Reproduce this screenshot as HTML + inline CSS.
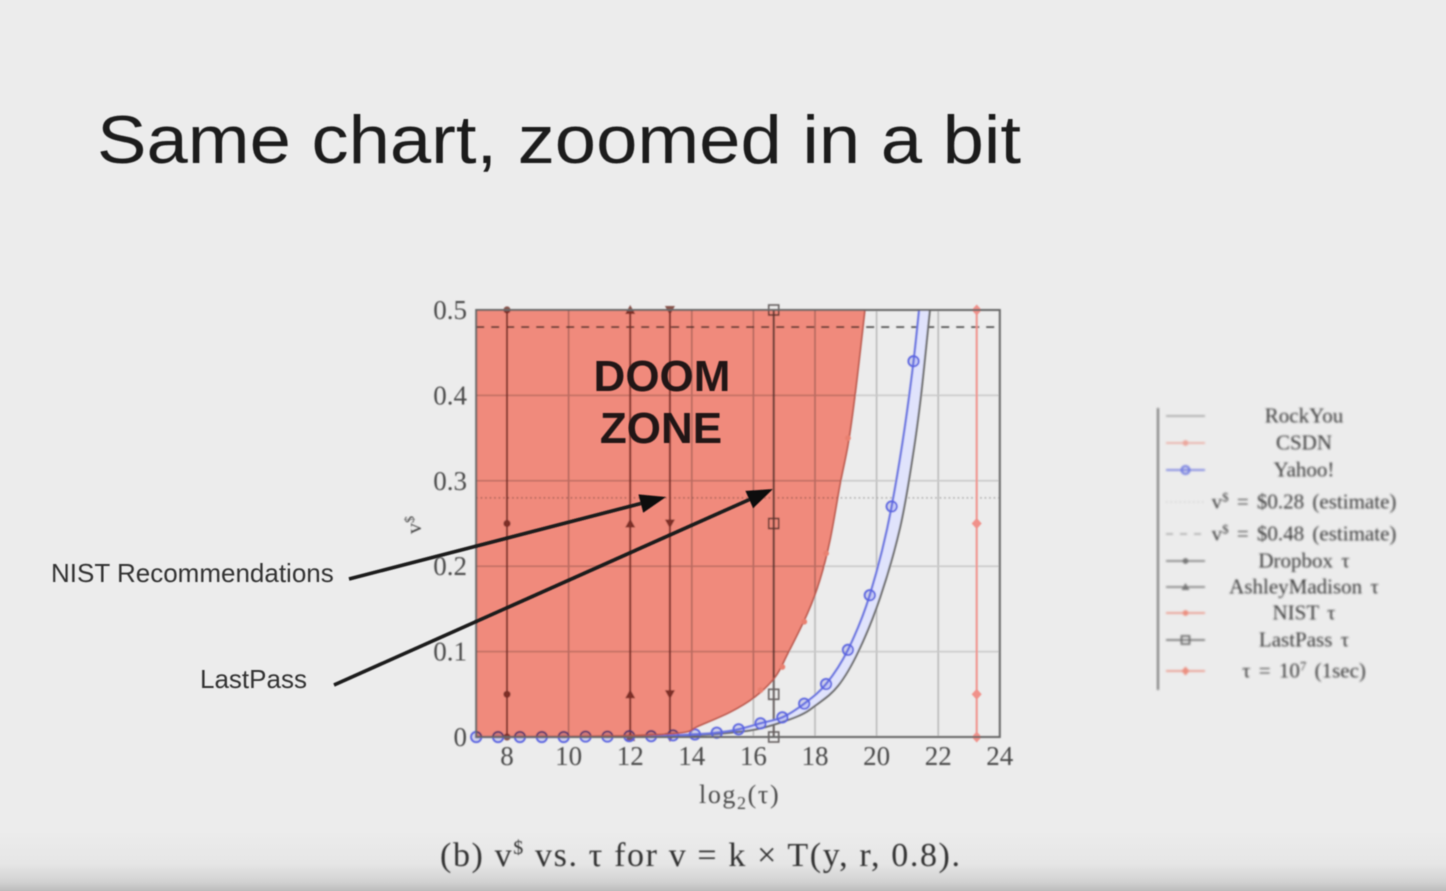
<!DOCTYPE html>
<html lang="en">
<head>
<meta charset="utf-8">
<title>Same chart, zoomed in a bit</title>
<style>
html,body{margin:0;padding:0;background:#ececec;}
body{width:1446px;height:891px;overflow:hidden;}
svg{display:block;}
text{font-family:"Liberation Serif",serif;}
.sans{font-family:"Liberation Sans",sans-serif;}
</style>
</head>
<body>
<svg id="slide" width="1446" height="891" viewBox="0 0 1446 891" xmlns="http://www.w3.org/2000/svg">
<defs>
<linearGradient id="bottomShade" x1="0" y1="0" x2="0" y2="1">
<stop offset="0" stop-color="#ececec"/><stop offset="0.55" stop-color="#e6e6e6"/><stop offset="0.85" stop-color="#d2d2d2"/><stop offset="1" stop-color="#bcbcbc"/>
</linearGradient>
<filter id="blurA" x="-5%" y="-5%" width="110%" height="110%"><feGaussianBlur stdDeviation="0.75"/></filter>
<filter id="blurB" x="-5%" y="-5%" width="110%" height="110%"><feGaussianBlur stdDeviation="1"/></filter>
<filter id="blurC" x="-5%" y="-5%" width="110%" height="110%"><feGaussianBlur stdDeviation="0.5"/></filter>
<clipPath id="plotClip"><rect x="470" y="310" width="536" height="436"/></clipPath>
</defs>
<rect width="1446" height="891" fill="#ececec"/>
<rect x="0" y="830" width="1446" height="61" fill="url(#bottomShade)"/>
<text class="sans" x="97" y="163" font-size="68" fill="#1c1c1c" textLength="924" lengthAdjust="spacingAndGlyphs" filter="url(#blurC)">Same chart, zoomed in a bit</text>
<g id="chart" filter="url(#blurA)"></g>
<g id="legend" filter="url(#blurB)"></g>
<g id="annotations" filter="url(#blurC)"></g>
<text x="440" y="866" font-size="34" fill="#333" filter="url(#blurA)" textLength="520" xml:space="preserve">(b) v<tspan dy="-12" font-size="20">$</tspan><tspan dy="12"> vs. τ for v = k × T(y, r, 0.8).</tspan></text>
</svg>
<script>
const xTicks = [8, 10, 12, 14, 16, 18, 20, 22, 24];
const yTicks = [0, 0.1, 0.2, 0.3, 0.4, 0.5];
const yGridValues = [0.1, 0.2, 0.3, 0.4];
const xGridValues = [10, 14, 16, 18, 20, 22];

const rockYouX = [7, 12, 14, 15.24, 16.21, 17.42, 18.06, 18.75, 19.40, 20.11, 20.76, 21.18, 21.44, 21.73];
const rockYouV = [0, 0.0005, 0.002, 0.005, 0.010, 0.024, 0.038, 0.060, 0.0995, 0.163, 0.245, 0.330, 0.400, 0.500];

const csdnX = [7, 9, 11, 13, 13.84, 14.17, 15.24, 16.05, 16.70, 17.12, 17.77, 18.16, 18.49, 18.81, 19.07, 19.30, 19.62];
const csdnV = [0, 0.0005, 0.001, 0.003, 0.006, 0.012, 0.029, 0.047, 0.070, 0.098, 0.146, 0.184, 0.231, 0.295, 0.342, 0.400, 0.500];
const csdnMarkerX = [16.23, 16.94, 17.65, 18.36, 19.07];
const csdnMarkerV = [0.055, 0.082, 0.135, 0.215, 0.350];

const yahooX = [7, 7.71, 8.42, 9.13, 9.84, 10.55, 11.26, 11.97, 12.68, 13.39, 14.10, 14.81, 15.52, 16.23, 16.94, 17.65, 18.36, 19.07, 19.78, 20.49, 21.20, 21.91];
const yahooV = [0, 0, 0, 0, 0, 0.0005, 0.0005, 0.001, 0.001, 0.002, 0.003, 0.005, 0.009, 0.016, 0.023, 0.039, 0.062, 0.102, 0.166, 0.270, 0.440, 0.700];

const estimateLow = 0.28;
const estimateHigh = 0.48;

const tauMarkerV = [0, 0.05, 0.25, 0.5];
const dropboxTau = 8;
const ashleyTau = 12;
const nistTau = 13.29;
const lastPassTau = 16.66;
const oneSecTau = 23.25;

const legendLabels = ["RockYou", "CSDN", "Yahoo!", "v^$ = $0.28 (estimate)", "v^$ = $0.48 (estimate)", "Dropbox τ", "AshleyMadison τ", "NIST τ", "LastPass τ", "τ = 10^7 (1sec)"];

const NS = "http://www.w3.org/2000/svg";
const sx = v => 507 + (v - 8) * 30.8;
const sy = v => 737 - v * 854;
const chart = document.getElementById("chart");
const legend = document.getElementById("legend");

function make(tag, attrs, parent, txt) {
  const el = document.createElementNS(NS, tag);
  for (const k in attrs) el.setAttribute(k, attrs[k]);
  if (txt !== undefined) el.textContent = txt;
  parent.appendChild(el);
  return el;
}
function pathOf(xs, vs) {
  const p = xs.map((x, i) => [sx(x), sy(vs[i])]);
  let d = "M" + p[0][0].toFixed(1) + " " + p[0][1].toFixed(1);
  for (let i = 0; i < p.length - 1; i++) {
    const a = p[Math.max(i - 1, 0)], b = p[i], c = p[i + 1], e = p[Math.min(i + 2, p.length - 1)];
    const c1x = b[0] + (c[0] - a[0]) / 6, c1y = b[1] + (c[1] - a[1]) / 6;
    const c2x = c[0] - (e[0] - b[0]) / 6, c2y = c[1] - (e[1] - b[1]) / 6;
    d += ` C${c1x.toFixed(1)} ${c1y.toFixed(1)} ${c2x.toFixed(1)} ${c2y.toFixed(1)} ${c[0].toFixed(1)} ${c[1].toFixed(1)}`;
  }
  return d;
}
function marker(kind, cx, cy, color, parent, r) {
  let el;
  const s = r || 5;
  if (kind === "circle") el = make("circle", {cx: cx, cy: cy, r: s, fill: color, "fill-opacity": 0.2, stroke: color, "stroke-width": 1.8}, parent);
  else if (kind === "square") el = make("rect", {x: cx - s, y: cy - s, width: 2 * s, height: 2 * s, fill: "none", stroke: color, "stroke-width": 1.6}, parent);
  else if (kind === "up") el = make("path", {d: `M${cx} ${cy-s} L${cx+s} ${cy+s-1} L${cx-s} ${cy+s-1} Z`, fill: color}, parent);
  else if (kind === "down") el = make("path", {d: `M${cx} ${cy+s} L${cx+s} ${cy-s+1} L${cx-s} ${cy-s+1} Z`, fill: color}, parent);
  else if (kind === "diamond") el = make("path", {d: `M${cx} ${cy-s-0.5} L${cx+s} ${cy} L${cx} ${cy+s+0.5} L${cx-s} ${cy} Z`, fill: color}, parent);
  else el = make("circle", {cx: cx, cy: cy, r: s * 0.72, fill: color}, parent);
  
  
  return el;
}

/* grid */
const grid = make("g", {}, chart);


xGridValues.forEach(v => {
  const l = make("line", {x1: sx(v), x2: sx(v), y1: sy(0), y2: sy(0.5), stroke: "#b8b8b8", "stroke-width": 1.5}, grid);
  
  
});
yGridValues.forEach(v => {
  const l = make("line", {x1: sx(7), x2: sx(24), y1: sy(v), y2: sy(v), stroke: "#c8c8c8", "stroke-width": 1.5}, grid);
  
  
});

/* estimates */
const estLow = make("line", {x1: sx(7), x2: sx(24), y1: sy(estimateLow), y2: sy(estimateLow), stroke: "#a8a8a8", "stroke-width": 1.4, "stroke-dasharray": "1.5 3"}, chart);


const estHigh = make("line", {x1: sx(7), x2: sx(24), y1: sy(estimateHigh), y2: sy(estimateHigh), stroke: "#4a4a4a", "stroke-width": 1.7, "stroke-dasharray": "8 7"}, chart);



/* tau lines */
function tauLine(value, kind, color, name) {
  const g = make("g", {}, chart);
  
  
  make("line", {x1: sx(value), x2: sx(value), y1: sy(0), y2: sy(0.5), stroke: color, "stroke-width": 2}, g);
  tauMarkerV.forEach(v => marker(kind, sx(value), sy(v), color, g));
}
tauLine(dropboxTau, "dot", "#86524c", "dropbox-tau");
tauLine(ashleyTau, "up", "#86524c", "ashley-madison-tau");
tauLine(nistTau, "down", "#86524c", "nist-tau");
tauLine(lastPassTau, "square", "#666060", "lastpass-tau");
tauLine(oneSecTau, "diamond", "#f0918a", "one-second-tau");

/* RockYou / Yahoo band */
const clipG = make("g", {"clip-path": "url(#plotClip)"}, chart);


const bandPath = pathOf(yahooX, yahooV) + " L" + pathOf(rockYouX.slice().reverse(), rockYouV.slice().reverse()).slice(1) + " Z";
const band = make("path", {d: bandPath, fill: "#e0e3fc", stroke: "none"}, clipG);


const rock = make("path", {d: pathOf(rockYouX, rockYouV), fill: "none", stroke: "#6a6a6a", "stroke-width": 2}, clipG);


const yahoo = make("path", {d: pathOf(yahooX, yahooV), fill: "none", stroke: "#6a74e0", "stroke-width": 2.2}, clipG);


const yahooMarkers = make("g", {}, clipG);


yahooX.forEach((x, i) => marker("circle", sx(x), sy(yahooV[i]), "#5a64e0", yahooMarkers, 5.2));

/* doom zone */
const doomPath = pathOf(csdnX, csdnV) + ` L${sx(csdnX[0])} ${sy(0.5)} Z`;
const doom = make("path", {d: doomPath, fill: "#f08a7c", style: "mix-blend-mode:multiply"}, chart);


const csdn = make("path", {d: pathOf(csdnX, csdnV), fill: "none", stroke: "#b9554a", "stroke-width": 1.6}, chart);


csdnMarkerX.forEach((x, i) => marker("dot", sx(x), sy(csdnMarkerV[i]), "#e8806f", chart, 4));

/* frame */
const frame = make("rect", {x: sx(7), y: sy(0.5), width: sx(24) - sx(7), height: sy(0) - sy(0.5), fill: "none", stroke: "#666", "stroke-width": 2}, chart);



/* ticks */
xTicks.forEach(v => {
  const t = make("text", {x: sx(v), y: 765, "font-size": 27, "text-anchor": "middle", fill: "#4a4a4a"}, chart, String(v));
  
  
});
yTicks.forEach(v => {
  const t = make("text", {x: 467, y: sy(v) + 9, "font-size": 27, "text-anchor": "end", fill: "#4a4a4a"}, chart, String(v));
  
  
});
const xTitle = make("text", {x: 699, y: 803, "font-size": 26, fill: "#4a4a4a", "letter-spacing": 1.6}, chart);


make("tspan", {}, xTitle, "log");
make("tspan", {dy: 6, "font-size": 18}, xTitle, "2");
make("tspan", {dy: -6}, xTitle, "(τ)");
const yTitle = make("text", {x: 0, y: 0, "font-size": 22, fill: "#4a4a4a", transform: "translate(421 534) rotate(-90)"}, chart);


make("tspan", {}, yTitle, "v");
make("tspan", {dy: -7, "font-size": 14}, yTitle, "$");

/* legend */
const legendY = [416, 443, 470, 502, 534, 561, 587, 613, 640, 671];
const legendStyle = [
  {c: "#a0a0a0"}, {c: "#eba69c", m: "dot"}, {c: "#6a74e0", m: "circle"},
  {c: "#d0d0d0", d: "1.5 3"}, {c: "#a8a8a8", d: "7 7"}, {c: "#777", m: "dot"},
  {c: "#777", m: "up"}, {c: "#eb8f80", m: "dot"}, {c: "#666", m: "square"}, {c: "#eb8f80", m: "diamond"}
];
const legendRule = make("line", {x1: 1158, x2: 1158, y1: 408, y2: 690, stroke: "#777", "stroke-width": 2}, legend);


legendLabels.forEach((label, i) => {
  const g = make("g", {}, legend);
  
  
  const st = legendStyle[i];
  const attrs = {x1: 1166, x2: 1205, y1: legendY[i], y2: legendY[i], stroke: st.c, "stroke-width": 1.6};
  if (st.d) attrs["stroke-dasharray"] = st.d;
  make("line", attrs, g);
  if (st.m) marker(st.m, 1185.5, legendY[i], st.c, g, 4);
  const t = make("text", {x: 1304, y: legendY[i] + 6.5, "font-size": 21, "word-spacing": 3, "text-anchor": "middle", fill: "#3a3a3a", "xml:space": "preserve"}, g);
  const parts = label.split("^");
  make("tspan", {}, t, parts[0]);
  if (parts[1]) {
    make("tspan", {dy: -7, "font-size": 13}, t, parts[1].charAt(0));
    make("tspan", {dy: 7}, t, parts[1].slice(1));
  }
});

/* annotations */
const ann = document.getElementById("annotations");
function arrow(x1, y1, x2, y2, name) {
  const g = make("g", {}, ann);
  
  
  const a = Math.atan2(y2 - y1, x2 - x1), len = 26, w = 9.5;
  const bx = x2 - len * Math.cos(a), by = y2 - len * Math.sin(a);
  make("line", {x1: x1, y1: y1, x2: bx, y2: by, stroke: "#1a1a1a", "stroke-width": 3.6}, g);
  make("path", {d: `M${x2} ${y2} L${bx - w * Math.sin(a)} ${by + w * Math.cos(a)} L${bx + w * Math.sin(a)} ${by - w * Math.cos(a)} Z`, fill: "#111"}, g);
}
arrow(349, 579, 666, 497, "nist-arrow");
arrow(334, 685, 773, 489, "lastpass-arrow");
function label(txt, x, y, size, anchor, weight, color, name) {
  const t = make("text", {x: x, y: y, "font-size": size, "text-anchor": anchor, "font-weight": weight, fill: color, class: "sans"}, ann, txt);
  
  
}
label("DOOM", 662, 391, 44, "middle", "bold", "#231414", "doom-label");
label("ZONE", 661, 443, 44, "middle", "bold", "#231414", "zone-label");
label("NIST Recommendations", 51, 582, 26, "start", "normal", "#333", "nist-label");
label("LastPass", 200, 688, 26, "start", "normal", "#333", "lastpass-label");
</script>
</body>
</html>
